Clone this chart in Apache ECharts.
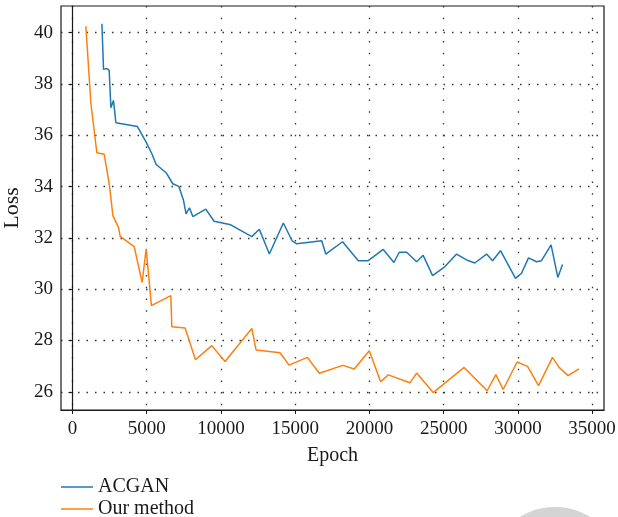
<!DOCTYPE html>
<html>
<head>
<meta charset="utf-8">
<script src="https://cdn.jsdelivr.net/npm/echarts@6/dist/echarts.min.js"></script>
<style>
html,body{margin:0;padding:0;background:#fff;}
#chart{width:618px;height:517px;}
</style>
</head>
<body>
<div id="chart"></div>
<script>
var xTicks = [0, 5000, 10000, 15000, 20000, 25000, 30000, 35000];
var yTicks = [26, 28, 30, 32, 34, 36, 38, 40];

var acganEpoch = [1980, 2090, 2315, 2470, 2585, 2760, 2920, 4375, 4960, 5345, 5635, 6305, 6755, 7160, 7470, 7650, 7875, 8105, 8980, 9535, 10660, 12075, 12585, 13260, 14200, 14800, 15100, 16785, 17060, 18190, 19250, 19920, 20930, 21650, 22005, 22505, 23180, 23620, 24255, 25085, 25870, 26545, 27100, 27890, 28295, 28830, 29840, 30245, 30715, 31255, 31590, 32235, 32690, 33005];
var acganLoss = [40.35, 38.57, 38.60, 38.53, 37.07, 37.36, 36.49, 36.34, 35.73, 35.28, 34.86, 34.54, 34.11, 34.01, 33.48, 32.94, 33.17, 32.83, 33.12, 32.65, 32.51, 32.05, 32.34, 31.37, 32.58, 31.88, 31.77, 31.89, 31.37, 31.85, 31.11, 31.11, 31.55, 31.04, 31.44, 31.44, 31.07, 31.32, 30.53, 30.88, 31.37, 31.14, 31.02, 31.37, 31.11, 31.50, 30.42, 30.62, 31.22, 31.07, 31.11, 31.73, 30.46, 30.96];

var oursEpoch = [900, 1240, 1640, 2135, 2490, 2720, 3095, 3210, 4155, 4690, 4960, 5315, 6620, 6690, 7585, 8280, 9380, 10275, 12075, 12365, 13980, 14585, 15815, 16625, 18200, 18980, 19990, 20755, 21265, 22725, 23180, 24295, 26380, 27930, 28515, 29005, 29950, 30650, 31390, 32330, 32775, 33380, 34120];
var oursLoss = [40.25, 37.23, 35.32, 35.26, 34.04, 32.87, 32.41, 32.06, 31.66, 30.26, 31.57, 29.36, 29.75, 28.54, 28.49, 27.25, 27.80, 27.18, 28.47, 27.63, 27.52, 27.04, 27.34, 26.72, 27.03, 26.89, 27.60, 26.39, 26.66, 26.35, 26.73, 25.97, 26.95, 26.04, 26.67, 26.09, 27.16, 26.99, 26.24, 27.34, 26.95, 26.63, 26.89];

var seriesNames = ['ACGAN', 'Our method'];

function pairs(xs, ys) {
  return xs.map(function (x, i) { return [x, ys[i]]; });
}

var serif = '"Liberation Serif", "DejaVu Serif", serif';
var chart = echarts.init(document.getElementById('chart'), null, {renderer: 'canvas'});
chart.setOption({
  animation: false,
  backgroundColor: '#fff',
  graphic: [{
    type: 'circle',
    shape: {cx: 555, cy: 575, r: 68},
    style: {fill: '#d4d4d4'},
    z: -10,
    silent: true
  }],
  grid: {
    left: 61, right: 14, top: 6, bottom: 107,
    containLabel: false, outerBoundsMode: 'none',
    show: true, borderColor: '#1a1a1a', borderWidth: 1.2,
    backgroundColor: 'transparent'
  },
  legend: {
    orient: 'vertical',
    left: 61, top: 477, height: 60, width: 200,
    icon: 'rect',
    itemWidth: 32, itemHeight: 1.5, itemGap: 2,
    padding: 0,
    textStyle: {fontFamily: serif, fontSize: 20, color: '#1a1a1a', lineHeight: 20},
    data: seriesNames
  },
  xAxis: {
    type: 'value',
    min: -775, max: 35800,
    name: 'Epoch', nameLocation: 'middle', nameGap: 36,
    nameTextStyle: {fontFamily: serif, fontSize: 20, color: '#1a1a1a'},
    axisLine: {show: true, lineStyle: {color: '#1a1a1a', width: 1.2}},
    axisTick: {show: true, inside: false, length: 4, customValues: xTicks, lineStyle: {color: '#1a1a1a', width: 1}},
    axisLabel: {customValues: xTicks, margin: 10, fontFamily: serif, fontSize: 19, color: '#1a1a1a',
      formatter: function (v) { return String(v); }},
    splitLine: {show: true, lineStyle: {color: '#333', width: 1.3, type: [1.5, 10.2]}}
  },
  yAxis: {
    type: 'value',
    min: 25.29, max: 41.04,
    name: 'Loss', nameLocation: 'middle', nameGap: 31, nameRotate: 90,
    nameTextStyle: {fontFamily: serif, fontSize: 22, color: '#1a1a1a'},
    axisLine: {show: true, lineStyle: {color: '#1a1a1a', width: 1.2}},
    axisTick: {show: true, inside: false, length: 4, customValues: yTicks, lineStyle: {color: '#1a1a1a', width: 1}},
    axisLabel: {customValues: yTicks, margin: 8, fontFamily: serif, fontSize: 19, color: '#1a1a1a',
      formatter: function (v) { return String(v); }},
    splitLine: {show: true, lineStyle: {color: '#333', width: 1.3, type: [1.5, 7]}}
  },
  series: [
    {
      name: seriesNames[0], type: 'line', data: pairs(acganEpoch, acganLoss),
      symbol: 'none', showSymbol: false,
      lineStyle: {color: '#1f77b4', width: 1.5}, itemStyle: {color: '#1f77b4'}, z: 3
    },
    {
      name: seriesNames[1], type: 'line', data: pairs(oursEpoch, oursLoss),
      symbol: 'none', showSymbol: false,
      lineStyle: {color: '#ff7f0e', width: 1.5}, itemStyle: {color: '#ff7f0e'}, z: 3
    }
  ]
});
</script>
</body>
</html>
